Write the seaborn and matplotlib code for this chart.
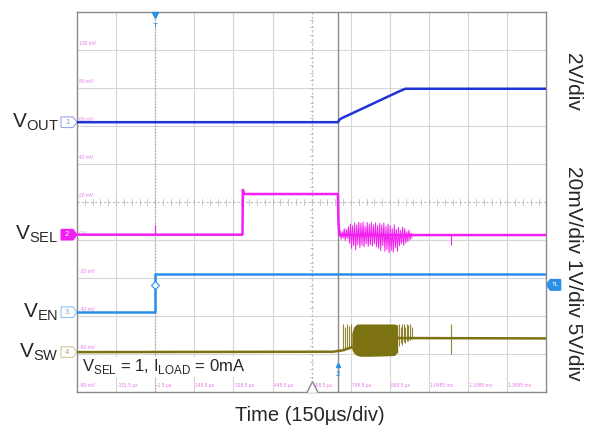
import matplotlib
matplotlib.use("Agg")
import matplotlib.pyplot as plt
import matplotlib.transforms as mtransforms
from matplotlib.patches import Polygon
import seaborn as sns

# ---- data (time in us, level in screen divisions 0..10) ----
vout_t = [-301.5, 699.0, 704.0, 712.0, 930.0, 957.0, 1498.5]
vout_v = [7.10, 7.10, 7.16, 7.20, 7.90, 7.98, 7.98]

vsel_t = [-301.5, 333.0, 334.5, 340.0, 350.0, 699.0, 700.5, 704.0, 1498.5]
vsel_v = [4.14, 4.14, 5.32, 5.21, 5.21, 5.21, 4.55, 4.13, 4.13]
vsel_spike_t = [-1.5, 1133.0]
vsel_spike_hi = [4.40, 4.13]
vsel_spike_lo = [4.14, 3.88]
vsel_burst_t = [707, 711, 715, 719, 723, 727, 731, 735, 739, 743,
                747, 751, 755, 759, 763, 767, 771, 775, 779, 783,
                787, 791, 795, 799, 803, 807, 811, 815, 819, 823,
                827, 831, 835, 839, 843, 847, 851, 855, 859, 863,
                867, 871, 875, 879, 883, 887, 891, 895, 899, 903,
                907, 911, 915, 919, 923, 927, 931, 935, 939, 943,
                947, 951, 955, 959, 963, 967, 971, 975, 979, 983]
vsel_burst_v = [4.25, 4.02, 4.22, 4.05, 4.30, 3.98, 4.28, 4.04, 4.35, 3.92,
                4.42, 3.78, 4.38, 3.85, 4.45, 3.74, 4.40, 3.88, 4.47, 3.80,
                4.44, 3.86, 4.47, 3.82, 4.36, 3.90, 4.46, 3.83, 4.42, 3.87,
                4.47, 3.84, 4.40, 3.90, 4.45, 3.82, 4.38, 3.78, 4.44, 3.72,
                4.40, 3.85, 4.45, 3.70, 4.36, 3.75, 4.42, 3.66, 4.38, 3.72,
                4.30, 3.68, 4.40, 3.80, 4.28, 3.70, 4.33, 3.85, 4.25, 3.90,
                4.34, 3.86, 4.30, 3.92, 4.22, 3.96, 4.26, 4.00, 4.18, 4.05]

ven_t = [-301.5, -1.5, -1.5, 1498.5]
ven_v = [2.10, 2.10, 3.10, 3.10]
ven_trig_level = 2.82

vsw_t = [-301.5, 680.0, 720.0, 752.0]
vsw_v = [1.05, 1.06, 1.10, 1.18]
vsw_core_t = [752, 760, 772, 785, 820, 880, 915, 928]
vsw_core_hi = [1.55, 1.72, 1.79, 1.79, 1.79, 1.79, 1.79, 1.76]
vsw_core_lo = [1.12, 1.02, 0.96, 0.94, 0.94, 0.95, 0.96, 1.05]
vsw_post_t = [928.0, 1498.5]
vsw_post_v = [1.42, 1.41]
vsw_spike_t = [720, 726, 733, 741, 748, 934, 939, 945, 951, 957, 963, 969, 976, 983, 1133]
vsw_spike_hi = [1.79, 1.70, 1.79, 1.75, 1.79, 1.79, 1.72, 1.79, 1.79, 1.70, 1.79, 1.76, 1.79, 1.70, 1.80]
vsw_spike_lo = [1.10, 1.10, 1.12, 1.14, 1.16, 1.20, 1.30, 1.25, 1.32, 1.30, 1.35, 1.35, 1.38, 1.40, 1.00]

time_labels = ["-151.5 \u00b5s", "-1.5 \u00b5s", "148.5 \u00b5s", "298.5 \u00b5s", "448.5 \u00b5s",
               "598.5 \u00b5s", "748.5 \u00b5s", "898.5 \u00b5s", "1.0485 ms", "1.1985 ms", "1.3485 ms"]
volt_labels = ["-80 mV", "-60 mV", "-40 mV", "-20 mV", "0 V", "20 mV", "40 mV", "60 mV", "80 mV", "100 mV"]

t_min, t_max, t_div = -301.5, 1498.5, 150.0
trig_t, cursor_t = -1.5, 700.0

c_out, c_sel, c_en, c_sw = "#1f33d6", "#f21ff0", "#2a8fe6", "#7d7212"

sns.set_style("white")
plt.rcParams["font.family"] = ["Liberation Sans", "DejaVu Sans"]
plt.rcParams["mathtext.fontset"] = "custom"
plt.rcParams["mathtext.rm"] = "Liberation Sans"

fig = plt.figure(figsize=(5.9, 4.36), dpi=100)
ax = fig.add_axes([77 / 590, 1 - 392 / 436, 469.5 / 590, 380 / 436])
ax.set_xlim(t_min, t_max)
ax.set_ylim(0, 10)
ax.set_xticks([])
ax.set_yticks([])
for s in ax.spines.values():
    s.set_color("#8a8a8a")
    s.set_linewidth(1.0)

# scope graticule
n_x = int(round((t_max - t_min) / t_div))
for k in range(1, n_x):
    t = t_min + k * t_div
    if k == n_x // 2:
        ax.axvline(t, color="#bcbcbc", lw=0.8, ls=(0, (2, 2)), zorder=0)
    else:
        ax.axvline(t, color="#d6d6d6", lw=0.8, zorder=0)
for k in range(1, 10):
    if k == 5:
        ax.axhline(k, color="#bcbcbc", lw=0.8, ls=(0, (2, 2)), zorder=0)
    else:
        ax.axhline(k, color="#d6d6d6", lw=0.8, zorder=0)
t_mid = t_min + n_x // 2 * t_div
for j in range(1, n_x * 5):
    t = t_min + j * t_div / 5
    ax.plot([t, t], [4.93, 5.07], color="#bcbcbc", lw=0.6, zorder=0)
for j in range(1, 50):
    y = j / 5
    ax.plot([t_mid - 6, t_mid + 6], [y, y], color="#bcbcbc", lw=0.6, zorder=0)

ax.axvline(trig_t, color="#a8a8a8", lw=0.9, ls=(0, (1, 1.5)), zorder=1)
ax.axvline(cursor_t, color="#8c8c8c", lw=1.0, zorder=1)

# tiny on-screen readouts
for i, lab in enumerate(volt_labels):
    ax.text(t_min + 8, i + 0.1, lab, fontsize=3.5, color="#e878e8", va="bottom", ha="left")
for i, lab in enumerate(time_labels):
    ax.text(t_min + (i + 1) * t_div + 4, 0.1, lab, fontsize=3.5, color="#e878e8", va="bottom", ha="left")

# traces
sns.lineplot(x=vout_t, y=vout_v, ax=ax, color=c_out, lw=1.8, sort=False, estimator=None, zorder=5)
sns.lineplot(x=vsel_t, y=vsel_v, ax=ax, color=c_sel, lw=1.8, sort=False, estimator=None, zorder=5)
sns.lineplot(x=vsel_burst_t, y=vsel_burst_v, ax=ax, color=c_sel, lw=0.7, sort=False, estimator=None, zorder=5)
ax.vlines(vsel_spike_t, vsel_spike_lo, vsel_spike_hi, color=c_sel, lw=0.8, zorder=5)
sns.lineplot(x=ven_t, y=ven_v, ax=ax, color=c_en, lw=1.8, sort=False, estimator=None, zorder=5)
sns.lineplot(x=vsw_t, y=vsw_v, ax=ax, color=c_sw, lw=1.8, sort=False, estimator=None, zorder=5)
ax.fill_between(vsw_core_t, vsw_core_lo, vsw_core_hi, color=c_sw, lw=0, zorder=5)
ax.vlines(vsw_spike_t, vsw_spike_lo, vsw_spike_hi, color=c_sw, lw=0.8, alpha=0.85, zorder=5)
sns.lineplot(x=vsw_post_t, y=vsw_post_v, ax=ax, color=c_sw, lw=1.8, sort=False, estimator=None, zorder=5)

# markers on the screen
ax.plot(trig_t, ven_trig_level, marker="D", ms=4, mfc="white", mec=c_en, mew=0.8, zorder=6)
ax.plot(trig_t, 9.93, marker="v", ms=5, color=c_en, clip_on=False, zorder=6)
ax.text(trig_t, 9.7, "T", fontsize=6, color=c_en, ha="center", va="top", zorder=6)
ax.plot(t_mid, 0.12, marker="^", ms=9, mfc="white", mec="#8a8a8a", mew=1.0, zorder=6)
ax.plot(cursor_t, 0.72, marker="^", ms=3, color=c_en, zorder=6)
ax.text(cursor_t, 0.55, "2", fontsize=6, color=c_en, ha="center", va="top", zorder=6)

# channel labels and ground markers (left), trigger level tag (right)
blend = mtransforms.blended_transform_factory(ax.transAxes, ax.transData)
chans = [(r"V$_{\mathrm{OUT}}$", vout_v[0], "1", "white", "#9aa6ee", "#7f8fe8"),
         (r"V$_{\mathrm{SEL}}$", vsel_v[0], "2", c_sel, c_sel, "white"),
         (r"V$_{\mathrm{EN}}$", ven_v[0], "3", "white", "#8fc2f0", "#6aaae8"),
         (r"V$_{\mathrm{SW}}$", vsw_v[0], "4", "white", "#cfc7a0", "#a89e70")]
w, h = 16 / 469.5, 0.14
for lab, y, num, fc, ec, tc in chans:
    ax.text(-0.04, y, lab, transform=blend, fontsize=15, ha="right", va="center", clip_on=False)
    pts = [(-0.034, y - h), (-0.034 + w * 0.75, y - h), (-0.034 + w, y),
           (-0.034 + w * 0.75, y + h), (-0.034, y + h)]
    ax.add_patch(Polygon(pts, closed=True, transform=blend, fc=fc, ec=ec, lw=0.8, clip_on=False))
    ax.text(-0.034 + w * 0.38, y, num, transform=blend, fontsize=5.5, color=tc,
            ha="center", va="center", clip_on=False)

pts = [(1.0, ven_trig_level), (1.0 + 0.008, ven_trig_level + h), (1.0 + 0.03, ven_trig_level + h),
       (1.0 + 0.03, ven_trig_level - h), (1.0 + 0.008, ven_trig_level - h)]
ax.add_patch(Polygon(pts, closed=True, transform=blend, fc=c_en, ec=c_en, clip_on=False))
ax.text(1.019, ven_trig_level, "TL", transform=blend, fontsize=4.5, color="white",
        ha="center", va="center", clip_on=False)

ax.text(0.011, 0.66, r"V$_{\mathrm{SEL}}$ = 1, I$_{\mathrm{LOAD}}$ = 0mA", transform=blend,
        fontsize=12, ha="left", va="center", zorder=7,
        bbox=dict(boxstyle="square,pad=0.05", fc="white", ec="none"))

fig.text(573 / 590, 1 - 82 / 436, "2V/div", rotation=270, fontsize=15, ha="center", va="center")
fig.text(573 / 590, 1 - 273 / 436, "20mV/div 1V/div 5V/div", rotation=270, fontsize=15,
         ha="center", va="center")
fig.text(310 / 590, 1 - 415 / 436, "Time (150\u00b5s/div)", fontsize=14.5, ha="center", va="center")

fig.savefig("out.png", dpi=100)
